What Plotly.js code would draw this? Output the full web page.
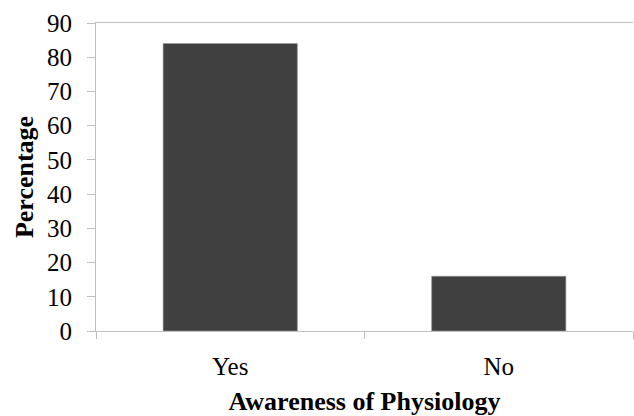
<!DOCTYPE html>
<html>
<head>
<meta charset="utf-8">
<script src="https://cdn.plot.ly/plotly-3.0.1.min.js"></script>
<style>
html,body{margin:0;padding:0;background:#fff;}
#chart{width:634px;height:416px;}
</style>
</head>
<body>
<div id="chart"></div>
<script>
const categories = ["Yes", "No"];
const percentages = [84, 16];
const yTickValues = [0, 10, 20, 30, 40, 50, 60, 70, 80, 90];

const serif = "Liberation Serif";
const axisGray = "#bfbfbf";

const trace = {
  type: "bar",
  x: categories,
  y: percentages,
  marker: {color: "#404040", line: {color: "#9a9a9a", width: 0.6}},
  hoverinfo: "none"
};

const layout = {
  width: 634,
  height: 416,
  margin: {l: 96, r: 1, t: 23, b: 85},
  paper_bgcolor: "#ffffff",
  plot_bgcolor: "#ffffff",
  showlegend: false,
  bargap: 0.5,
  font: {family: serif, color: "#000000", size: 25},
  xaxis: {
    type: "category",
    showline: true,
    linecolor: axisGray,
    linewidth: 1,
    mirror: true,
    ticks: "outside",
    tickson: "boundaries",
    ticklen: 7,
    tickcolor: axisGray,
    tickwidth: 1,
    showgrid: false,
    zeroline: false,
    tickfont: {family: serif, size: 25, color: "#000000"},
    ticklabelstandoff: 13,
    title: {text: "Awareness of Physiology", font: {family: serif, size: 26, color: "#000000", weight: "bold"}, standoff: 13},
    automargin: false
  },
  yaxis: {
    range: [0, 90],
    tickvals: yTickValues,
    ticktext: yTickValues.map(String),
    showline: true,
    linecolor: axisGray,
    linewidth: 1,
    ticks: "outside",
    ticklen: 8,
    tickcolor: axisGray,
    tickwidth: 1,
    showgrid: false,
    zeroline: false,
    tickfont: {family: serif, size: 25, color: "#000000"},
    ticklabelstandoff: 10,
    title: {text: "Percentage", font: {family: serif, size: 26, color: "#000000", weight: "bold"}, standoff: 5},
    automargin: false
  }
};

Plotly.newPlot("chart", [trace], layout, {staticPlot: true, displayModeBar: false});
</script>
</body>
</html>
